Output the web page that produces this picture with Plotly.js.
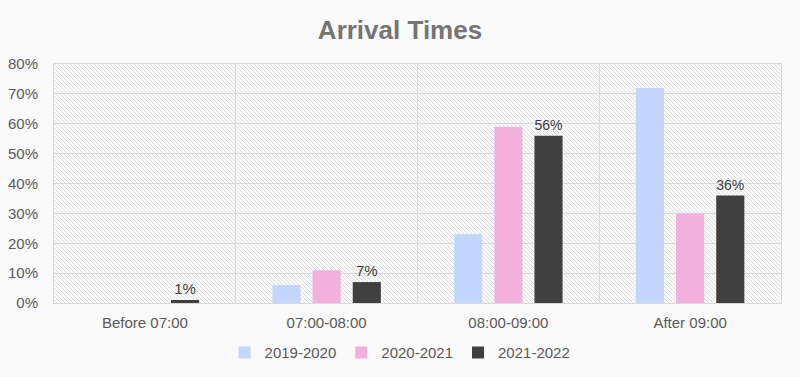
<!DOCTYPE html>
<html>
<head>
<meta charset="utf-8">
<script src="https://cdn.plot.ly/plotly-3.0.1.min.js"></script>
<style>
  html, body { margin: 0; padding: 0; background: #fafafa; }
  #chart { width: 800px; height: 377px; outline: 2px solid #d9d9d9; outline-offset: -2px; }
</style>
</head>
<body>
<div id="chart"></div>
<script>
const categories = ["Before 07:00", "07:00-08:00", "08:00-09:00", "After 09:00"];
const seriesNames = ["2019-2020", "2020-2021", "2021-2022"];
const values2019 = [0, 6, 23, 72];
const values2020 = [0, 11, 59, 30];
const values2021 = [1, 7, 56, 36];
const colors = ["#c3d6fc", "#f1b1dc", "#404040"];
const yTicks = [0, 10, 20, 30, 40, 50, 60, 70, 80];

const textColor = "#595959";
const allValues = [values2019, values2020, values2021];

const traces = allValues.map((vals, i) => ({
  type: "bar",
  name: seriesNames[i],
  x: categories,
  y: vals,
  marker: { color: colors[i], line: { width: 0 } },
  text: i === 2 ? vals.map(v => v + "%") : undefined,
  textposition: i === 2 ? "outside" : "none",
  textfont: { family: "Liberation Sans, Arial, sans-serif", size: 15, color: "#404040" },
  cliponaxis: false,
  hoverinfo: "skip"
}));

const hatch = '<svg xmlns="http://www.w3.org/2000/svg" width="727" height="239">' +
  '<defs><pattern id="p" width="4" height="4" patternUnits="userSpaceOnUse">' +
  '<rect width="4" height="4" fill="#fafafa"/>' +
  '<path d="M-1,-1 L5,5 M-1,3 L1,5 M3,-1 L5,1" stroke="#d9d9d9" stroke-width="0.85"/>' +
  '</pattern></defs><rect width="727" height="239" fill="url(#p)"/></svg>';
const hatchUri = "data:image/svg+xml;base64," + btoa(hatch);

const layout = {
  width: 800,
  height: 377,
  paper_bgcolor: "#fafafa",
  plot_bgcolor: "rgba(0,0,0,0)",
  margin: { l: 54, r: 19, t: 64, b: 74 },
  font: { family: "Liberation Sans, Arial, sans-serif", size: 15, color: textColor },
  title: {
    text: "<b>Arrival Times</b>",
    x: 0.5,
    xanchor: "center",
    y: 0.92,
    yanchor: "middle",
    font: { family: "Liberation Sans, Arial, sans-serif", size: 26, color: "#757575" }
  },
  barmode: "group",
  bargap: 0.337,
  bargroupgap: 0.3,
  xaxis: {
    type: "category",
    tickson: "boundaries",
    showgrid: true,
    gridcolor: "#d9d9d9",
    gridwidth: 1,
    showline: true,
    mirror: true,
    linecolor: "#d9d9d9",
    linewidth: 1,
    ticks: "",
    ticklabelstandoff: 6,
    tickfont: { size: 15, color: textColor },
    fixedrange: true
  },
  yaxis: {
    range: [0, 80],
    tickvals: yTicks,
    ticktext: yTicks.map(v => v + "%"),
    showgrid: true,
    gridcolor: "#d9d9d9",
    gridwidth: 1,
    showline: true,
    mirror: true,
    linecolor: "#d9d9d9",
    linewidth: 1,
    zeroline: false,
    ticks: "",
    ticklabelstandoff: 12,
    tickfont: { size: 15, color: textColor },
    fixedrange: true
  },
  legend: {
    orientation: "h",
    x: 0.476,
    xanchor: "center",
    yref: "container",
    y: 0.064,
    yanchor: "middle",
    font: { size: 15, color: textColor },
    itemwidth: 30,
    tracegroupgap: 0,
    traceorder: "normal"
  },
  images: [{
    source: hatchUri,
    xref: "paper", yref: "paper",
    x: 0, y: 1, sizex: 1, sizey: 1,
    xanchor: "left", yanchor: "top",
    sizing: "stretch",
    layer: "below"
  }],
  showlegend: true
};

Plotly.newPlot("chart", traces, layout, { displayModeBar: false, staticPlot: true });
</script>
</body>
</html>
